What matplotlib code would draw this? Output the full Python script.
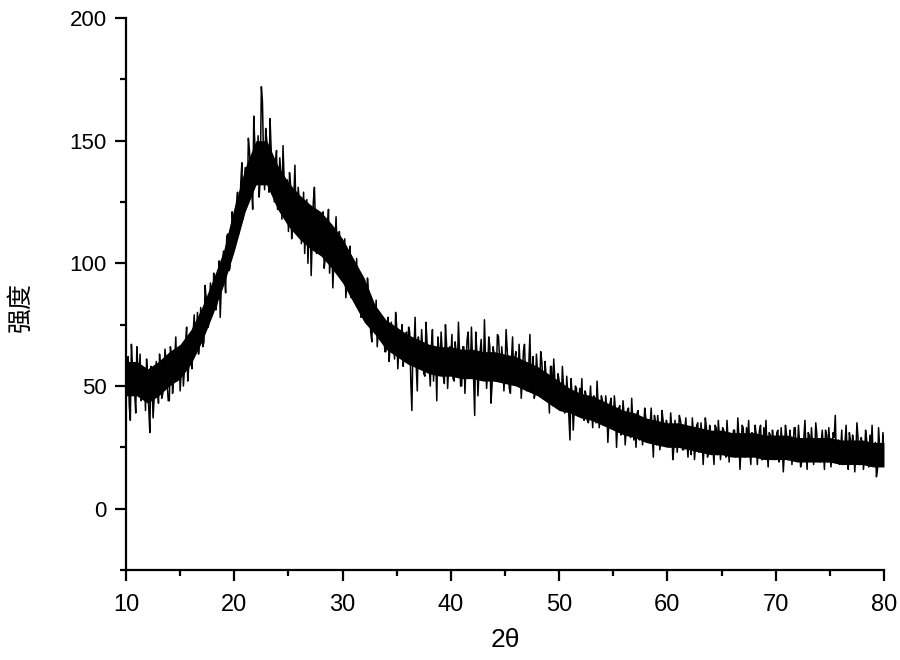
import numpy as np
import matplotlib
matplotlib.use("Agg")
import matplotlib.pyplot as plt
from matplotlib.ticker import MultipleLocator

# intensity at 2theta = 10.0, 10.2, ..., 80.0
intensity_even = [
    48, 62, 36, 58, 47, 66, 50, 44, 57, 40,
    54, 31, 52, 45, 60, 43, 56, 47, 65, 51,
    44, 62, 53, 70, 55, 48, 63, 57, 74, 58,
    62, 72, 64, 80, 69, 76, 68, 86, 74, 92,
    80, 93, 84, 101, 90, 105, 88, 112, 98, 121,
    106, 124, 112, 133, 118, 139, 124, 146, 131, 160,
    132, 152, 136, 166, 130, 150, 129, 147, 133, 141,
    122, 143, 118, 135, 126, 113, 132, 119, 140, 112,
    126, 108, 129, 115, 100, 122, 110, 131, 104, 118,
    106, 121, 102, 115, 96, 112, 101, 119, 98, 108,
    94, 110, 92, 104, 86, 99, 90, 82, 95, 84,
    90, 76, 88, 72, 83, 74, 66, 80, 70, 76,
    64, 78, 67, 72, 61, 74, 65, 70, 58, 69,
    62, 72, 40, 66, 58, 70, 60, 65, 54, 68,
    59, 66, 52, 63, 70, 56, 64, 51, 67, 58,
    62, 53, 68, 57, 64, 50, 66, 59, 72, 55,
    61, 38, 64, 56, 69, 53, 62, 57, 66, 50,
    63, 55, 70, 52, 60, 56, 65, 49, 61, 54,
    64, 50, 58, 53, 67, 48, 59, 52, 62, 47,
    56, 49, 60, 45, 54, 50, 58, 42, 53, 47,
    52, 43, 50, 40, 47, 28, 46, 41, 49, 38,
    45, 39, 48, 36, 43, 40, 46, 35, 42, 38,
    44, 34, 41, 36, 45, 33, 40, 35, 42, 31,
    38, 33, 41, 29, 36, 32, 39, 28, 35, 31,
    37, 27, 34, 30, 38, 26, 33, 29, 36, 27,
    34, 28, 33, 25, 31, 29, 36, 24, 32, 27,
    33, 22, 30, 26, 35, 24, 29, 27, 33, 23,
    31, 25, 34, 22, 29, 26, 32, 21, 28, 30,
    24, 32, 22, 29, 25, 33, 21, 28, 24, 31,
    23, 30, 26, 34, 20, 27, 24, 31, 22, 28,
    25, 32, 21, 27, 23, 30, 20, 28, 25, 33,
    22, 27, 19, 29, 24, 31, 21, 26, 23, 30,
    20, 27, 24, 32, 19, 26, 22, 29, 21, 28,
    24, 18, 27, 22, 31, 20, 26, 23, 29, 18,
    25, 21, 28, 17, 24, 20, 27, 16, 25, 19,
    26,
]

# intensity at 2theta = 10.1, 10.3, ..., 79.9
intensity_odd = [
    60, 42, 67, 50, 39, 57, 63, 46, 55, 61,
    41, 58, 37, 55, 49, 63, 45, 53, 60, 44,
    66, 47, 61, 52, 64, 56, 50, 68, 52, 65,
    57, 79, 70, 63, 82, 66, 91, 77, 83, 79,
    96, 81, 92, 78, 99, 95, 111, 97, 106, 116,
    111, 129, 120, 141, 126, 132, 151, 137, 122, 148,
    140, 127, 172, 143, 155, 138, 159, 137, 125, 146,
    129, 137, 148, 121, 134, 137, 110, 127, 120, 131,
    121, 117, 104, 126, 113, 95, 125, 116, 112, 109,
    114, 98, 109, 122, 104, 90, 110, 104, 113, 95,
    100, 86, 98, 107, 93, 86, 102, 88, 78, 91,
    82, 94, 80, 68, 79, 85, 73, 69, 77, 64,
    73, 60, 76, 69, 80, 57, 68, 75, 64, 72,
    74, 52, 67, 78, 48, 63, 73, 55, 76, 58,
    50, 73, 61, 44, 65, 72, 54, 75, 49, 66,
    71, 52, 63, 76, 50, 66, 47, 69, 57, 74,
    53, 72, 46, 64, 58, 77, 49, 70, 43, 66,
    52, 71, 61, 66, 48, 73, 57, 47, 70, 61,
    51, 67, 45, 64, 54, 49, 71, 56, 45, 63,
    47, 64, 50, 60, 44, 39, 58, 61, 43, 55,
    45, 58, 39, 54, 37, 53, 32, 50, 38, 49,
    53, 36, 46, 35, 50, 33, 45, 52, 33, 46,
    34, 46, 27, 43, 33, 46, 25, 41, 30, 44,
    26, 40, 31, 45, 28, 25, 40, 31, 26, 41,
    29, 27, 41, 21, 35, 38, 24, 40, 27, 36,
    27, 39, 20, 36, 23, 38, 33, 24, 37, 21,
    26, 37, 20, 34, 23, 35, 18, 37, 21, 34,
    31, 18, 33, 36, 20, 33, 24, 36, 19, 30,
    32, 21, 37, 16, 34, 22, 33, 36, 18, 30,
    34, 18, 32, 20, 33, 36, 17, 30, 32, 20,
    31, 19, 33, 15, 34, 20, 32, 18, 33, 21,
    34, 17, 28, 36, 16, 30, 33, 18, 35, 20,
    19, 32, 16, 30, 33, 17, 31, 38, 20, 18,
    32, 19, 34, 16, 28, 30, 15, 35, 18, 29,
    16, 32, 19, 30, 34, 18, 13, 33, 18, 31,
]

# dense dark core of the trace, per whole degree 10..80
core_low = [
    46, 46, 43, 46, 50, 53, 59, 68, 79, 91,
    105, 121, 132, 132, 122, 115, 110, 106, 103, 98,
    92, 84, 76, 71, 65, 62, 59, 57, 55, 54,
    54, 53, 53, 52, 52, 51, 50, 48, 46, 43,
    40, 39, 37, 36, 34, 32, 30, 29, 27, 26,
    25, 25, 24, 23, 22, 22, 21, 21, 21, 20,
    20, 20, 19, 19, 19, 19, 18, 18, 18, 17,
    17,
]
core_high = [
    60, 60, 57, 60, 64, 67, 73, 82, 93, 105,
    123, 139, 150, 150, 140, 133, 128, 124, 121, 116,
    110, 102, 94, 83, 77, 74, 71, 69, 67, 66,
    66, 65, 65, 64, 64, 63, 62, 60, 58, 55,
    52, 49, 47, 46, 44, 42, 40, 39, 37, 36,
    35, 35, 34, 33, 32, 32, 31, 31, 31, 30,
    30, 30, 29, 29, 29, 29, 28, 28, 28, 27,
    27,
]

theta_even = 10.0 + 0.2 * np.arange(len(intensity_even))
theta_odd = 10.1 + 0.2 * np.arange(len(intensity_odd))
two_theta = np.concatenate([theta_even, theta_odd])
intensity = np.concatenate([intensity_even, intensity_odd])
order = np.argsort(two_theta)
two_theta = two_theta[order]
intensity = intensity[order]
core_theta = 10 + np.arange(len(core_low))

x_ticks = [10, 20, 30, 40, 50, 60, 70, 80]
y_ticks = [0, 50, 100, 150, 200]
x_label = "2θ"
y_label = "强度"

plt.rcParams['font.family'] = ['Liberation Sans', 'DejaVu Sans']

fig = plt.figure(figsize=(9, 6.6), dpi=100)
ax = fig.add_axes([126/900, 90/660, 758/900, 552/660])
ax.fill_between(core_theta, core_low, core_high, color='black', lw=0)
ax.plot(two_theta, intensity, color='black', lw=1.1)

ax.set_xlim(10, 80)
ax.set_ylim(-25, 200)
ax.set_xticks(x_ticks)
ax.set_yticks(y_ticks)
ax.xaxis.set_minor_locator(MultipleLocator(5))
ax.yaxis.set_minor_locator(MultipleLocator(25))
ax.spines['top'].set_visible(False)
ax.spines['right'].set_visible(False)
for s in ('left', 'bottom'):
    ax.spines[s].set_linewidth(1.6)
ax.tick_params(which='major', direction='out', length=8, width=1.6)
ax.tick_params(which='minor', direction='out', length=4.5, width=1.6)
ax.tick_params(axis='y', labelsize=16, pad=6)
ax.tick_params(axis='x', labelsize=17, pad=9)

ax.set_xlabel(x_label, fontsize=19)
ax.xaxis.set_label_coords(0.5, -0.105)
ax.set_ylabel(y_label, fontsize=18, family=['Noto Sans CJK SC', 'DejaVu Sans'])
ax.yaxis.set_label_coords(-0.122, 0.476)

fig.savefig("out.png", dpi=100)
